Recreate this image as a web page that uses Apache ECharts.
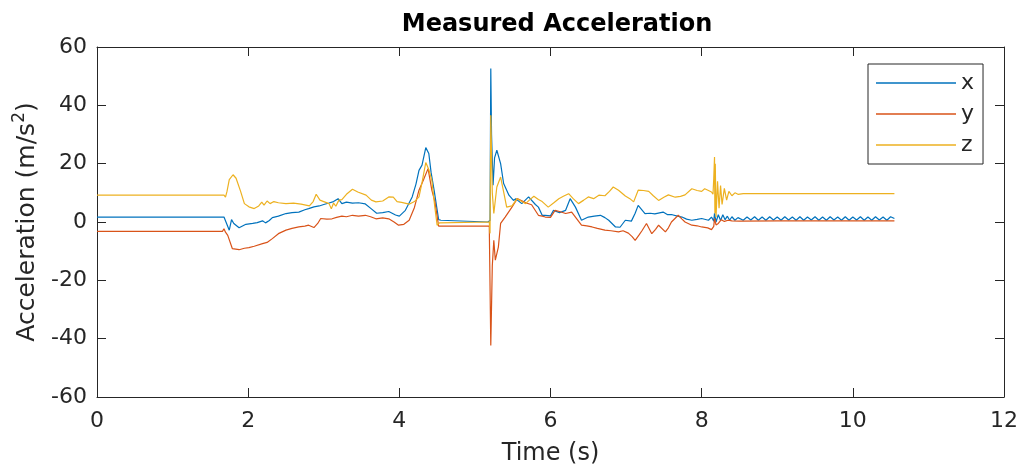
<!DOCTYPE html>
<html>
<head>
<meta charset="utf-8">
<script src="https://cdn.jsdelivr.net/npm/echarts@6/dist/echarts.min.js"></script>
<style>html,body{margin:0;padding:0;background:#fff;}#c{width:1021px;height:474px;}</style>
</head>
<body>
<div id="c"></div>
<script>
// ---- data ----
const xTicks = [0, 2, 4, 6, 8, 10, 12];
const yTicks = [-60, -40, -20, 0, 20, 40, 60];

const tX = [0,1.68,1.70,1.75,1.78,1.81,1.88,1.97,2.06,2.12,2.19,2.23,2.25,2.28,2.32,2.40,2.50,2.58,2.67,2.75,2.80,2.87,2.94,3.00,3.07,3.13,3.19,3.24,3.30,3.38,3.46,3.55,3.63,3.70,3.78,3.86,3.95,4.00,4.08,4.17,4.22,4.26,4.30,4.35,4.39,4.42,4.46,4.52,4.55,5.17,5.20,5.21,5.22,5.24,5.26,5.29,5.34,5.38,5.45,5.51,5.54,5.62,5.71,5.80,5.84,5.89,5.93,6.00,6.04,6.12,6.20,6.26,6.33,6.41,6.50,6.58,6.66,6.72,6.77,6.86,6.92,6.99,7.07,7.12,7.16,7.25,7.32,7.38,7.49,7.55,7.61,7.68,7.74,7.80,7.87,7.94,8.00,8.09,8.13,8.16,8.17,8.19,8.22,8.25,8.28,8.31,8.34,8.37,8.40,8.44,8.48,8.50,8.55,8.60,8.65,8.70,8.75,8.80,8.85,8.90,8.95,9.00,9.05,9.10,9.15,9.20,9.25,9.30,9.35,9.40,9.45,9.50,9.55,9.60,9.65,9.70,9.75,9.80,9.85,9.90,9.95,10.00,10.05,10.10,10.15,10.20,10.25,10.30,10.35,10.40,10.45,10.50,10.55];
const vX = [1.7,1.7,2.2,-2.8,0.8,-0.5,-2.0,-0.8,-0.5,-0.2,0.4,-0.3,-0.8,0.5,1.5,2.0,2.9,3.2,3.4,4.2,4.6,5.2,5.5,6.0,6.5,7.0,8.0,6.3,6.8,6.5,6.6,6.2,4.5,3.0,3.2,3.6,2.4,2.0,4.0,8.6,13.0,17.7,19.5,25.5,23.5,17.0,10.9,0.8,0.6,0.0,0.5,52.6,30.0,12.6,22.0,24.6,20.0,13.2,9.2,7.4,8.0,6.3,8.6,6.0,5.1,2.3,2.3,2.1,4.0,3.2,4.0,8.0,5.1,0.6,1.7,2.0,2.3,1.5,0.6,-1.7,-1.8,0.6,0.3,3.0,5.7,2.9,3.0,2.8,3.4,2.5,2.5,2.0,1.7,1.0,0.6,0.9,1.2,0.6,1.7,0.3,3.0,0.0,2.5,0.5,2.5,0.8,2.0,0.6,1.8,0.6,1.5,1.8,0.6,1.7,0.7,1.8,0.6,1.7,0.6,1.8,0.7,1.7,0.6,1.8,0.7,1.7,0.6,1.8,0.6,1.7,0.7,1.8,0.6,1.7,0.6,1.8,0.7,1.7,0.6,1.8,0.6,1.7,0.7,1.8,0.6,1.7,0.6,1.8,0.7,1.7,0.6,1.8,1.2];

const tY = [0,1.66,1.68,1.70,1.73,1.79,1.88,1.95,2.01,2.08,2.19,2.25,2.32,2.40,2.50,2.58,2.67,2.75,2.80,2.87,2.92,2.96,3.04,3.11,3.17,3.24,3.30,3.38,3.46,3.55,3.62,3.69,3.78,3.86,3.93,3.99,4.06,4.13,4.20,4.26,4.32,4.38,4.43,4.47,4.52,5.19,5.21,5.23,5.25,5.27,5.31,5.34,5.40,5.49,5.56,5.62,5.68,5.75,5.84,5.89,5.93,6.00,6.06,6.13,6.20,6.28,6.35,6.41,6.48,6.55,6.62,6.72,6.80,6.90,6.96,7.03,7.08,7.12,7.17,7.21,7.27,7.34,7.39,7.43,7.52,7.56,7.60,7.69,7.74,7.78,7.87,7.94,8.00,8.08,8.13,8.16,8.17,8.19,8.22,8.26,8.30,8.35,8.40,8.50,9.00,9.50,10.00,10.55];
const vY = [-3.2,-3.2,-2.3,-3.5,-4.6,-9.1,-9.5,-9.0,-8.8,-8.3,-7.4,-7.0,-5.7,-4.0,-2.8,-2.2,-1.7,-1.4,-1.1,-1.9,-0.5,1.2,1.0,1.1,1.6,2.0,1.8,2.3,2.0,2.3,1.8,1.1,1.4,1.1,0.0,-1.1,-0.8,0.6,5.0,10.9,14.5,18.3,10.9,7.0,-1.4,-1.4,-42.3,-15.0,-6.3,-13.1,-8.6,-0.5,1.7,5.1,8.0,7.3,6.5,5.9,2.3,2.0,1.7,1.6,4.0,3.5,2.9,3.4,1.0,-1.1,-1.3,-1.7,-2.2,-2.8,-3.0,-3.4,-3.0,-3.8,-5.0,-6.3,-4.5,-3.0,-0.5,-4.0,-2.5,-1.1,-3.4,-2.0,0.0,2.3,1.0,0.0,-1.1,-1.3,-1.7,-2.0,-2.6,-1.5,1.2,-1.0,-0.5,0.8,0.2,0.6,0.4,0.3,0.4,0.4,0.4,0.4];

const tZ = [0,1.68,1.70,1.72,1.75,1.80,1.84,1.90,1.95,2.01,2.08,2.14,2.18,2.21,2.25,2.29,2.34,2.40,2.50,2.60,2.70,2.81,2.86,2.90,2.95,3.00,3.07,3.10,3.13,3.16,3.20,3.24,3.30,3.38,3.45,3.56,3.63,3.69,3.78,3.86,3.92,3.97,4.03,4.13,4.20,4.26,4.30,4.35,4.39,4.43,4.47,4.50,4.53,5.19,5.20,5.21,5.23,5.25,5.29,5.34,5.38,5.42,5.49,5.56,5.62,5.67,5.72,5.78,5.84,5.89,5.97,6.04,6.11,6.17,6.24,6.30,6.37,6.44,6.50,6.57,6.64,6.72,6.78,6.83,6.90,6.99,7.05,7.10,7.16,7.23,7.30,7.36,7.43,7.50,7.56,7.65,7.72,7.78,7.87,7.94,8.00,8.04,8.09,8.13,8.15,8.16,8.17,8.175,8.18,8.19,8.21,8.23,8.25,8.27,8.30,8.33,8.36,8.40,8.44,8.48,8.55,10.55];
const vZ = [9.2,9.2,8.5,10.5,14.5,16.2,15.0,10.5,6.3,5.2,4.6,5.5,6.8,5.8,7.2,6.3,7.0,6.6,6.3,6.5,6.1,5.5,7.0,9.5,7.5,7.0,6.3,4.5,6.5,5.4,7.5,7.7,9.5,11.2,10.3,9.2,7.5,6.9,7.2,8.6,8.5,7.0,6.7,6.1,7.0,8.6,13.5,20.4,18.0,14.3,5.0,-1.1,-0.3,0.0,-3.9,36.6,10.0,2.9,12.0,15.4,10.3,5.1,5.5,8.0,7.0,6.3,7.5,8.8,7.7,7.0,5.1,6.5,8.0,8.8,9.7,8.0,6.3,7.5,8.6,8.0,9.2,9.0,10.5,12.0,10.9,8.9,8.0,6.9,10.9,10.8,10.5,9.0,7.4,8.5,9.3,8.5,8.8,9.3,11.4,10.8,10.5,11.4,10.8,10.3,9.5,15.0,22.3,3.0,20.0,1.7,14.0,4.7,12.5,6.0,11.5,7.5,10.5,9.0,10.0,9.5,9.7,9.7];

const seriesNames = ['x', 'y', 'z'];
const seriesColors = ['#0072BD', '#D95319', '#EDB120'];

// ---- chart ----
const pairs = (t, v) => t.map((ti, i) => [ti, v[i]]);
const seriesData = [pairs(tX, vX), pairs(tY, vY), pairs(tZ, vZ)];

const AX = '#262626';
const FONT = 'DejaVu Sans';
const chart = echarts.init(document.getElementById('c'), null, {renderer: 'canvas'});

const baseX = {
  type: 'value', min: xTicks[0], max: xTicks[xTicks.length - 1], interval: xTicks[1] - xTicks[0],
  axisLine: {show: true, onZero: false, lineStyle: {color: AX, width: 1}},
  axisTick: {show: true, inside: true, length: 9, lineStyle: {color: AX, width: 1}},
  splitLine: {show: false}
};
const baseY = {
  type: 'value', min: yTicks[0], max: yTicks[yTicks.length - 1], interval: yTicks[1] - yTicks[0],
  axisLine: {show: true, onZero: false, lineStyle: {color: AX, width: 1}},
  axisTick: {show: true, inside: true, length: 9, lineStyle: {color: AX, width: 1}},
  splitLine: {show: false}
};

chart.setOption({
  animation: false,
  backgroundColor: '#fff',
  title: {
    text: 'Measured Acceleration', left: 552, top: 8, textAlign: 'center',
    textStyle: {fontFamily: FONT, fontWeight: 'bold', fontSize: 24, color: '#000'}
  },
  grid: {left: 97, right: 15, top: 47, bottom: 77, containLabel: false},
  legend: {
    orient: 'vertical', left: 868, top: 64,
    data: seriesNames,
    icon: 'rect', itemWidth: 80, itemHeight: 1.5, itemGap: 9,
    padding: [8, 9, 8, 8],
    borderColor: AX, borderWidth: 1, backgroundColor: '#fff',
    textStyle: {fontFamily: FONT, fontSize: 22, color: AX, lineHeight: 20}
  },
  xAxis: [
    Object.assign({}, baseX, {
      position: 'bottom',
      name: 'Time (s)', nameLocation: 'middle', nameGap: 45,
      nameTextStyle: {fontFamily: FONT, fontSize: 24, color: AX},
      axisLabel: {margin: 13, fontFamily: FONT, fontSize: 22, color: AX}
    }),
    Object.assign({}, baseX, {position: 'top', axisLabel: {show: false}})
  ],
  yAxis: [
    Object.assign({}, baseY, {
      position: 'left',
      name: 'Acceleration (m/s{sup|2})', nameLocation: 'middle', nameGap: 53, nameRotate: 90,
      nameTextStyle: {fontFamily: FONT, fontSize: 25, color: AX,
        rich: {sup: {fontFamily: FONT, fontSize: 17, color: AX, verticalAlign: 'top', padding: [0, 0, 16, 0]}}},
      axisLabel: {margin: 10, fontFamily: FONT, fontSize: 22, color: AX}
    }),
    Object.assign({}, baseY, {position: 'right', axisLabel: {show: false}})
  ],
  series: seriesNames.map((n, i) => ({
    name: n, type: 'line', data: seriesData[i],
    xAxisIndex: 0, yAxisIndex: 0,
    showSymbol: false, symbol: 'none',
    lineStyle: {color: seriesColors[i], width: 1.2},
    itemStyle: {color: seriesColors[i]}
  }))
});
</script>
</body>
</html>
